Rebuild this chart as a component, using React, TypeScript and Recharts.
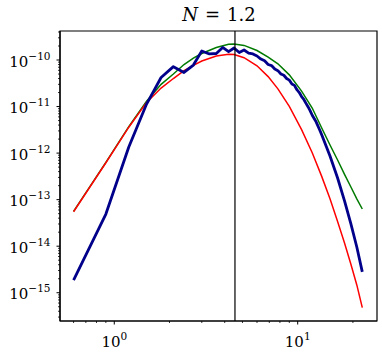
import React from 'react';
import { LineChart, Line, XAxis, YAxis, ReferenceLine, ReferenceArea } from 'recharts';

// ---- data ----
const curveX = [0.6, 0.9, 1.2, 1.5, 1.8, 2.1, 2.4, 2.7, 3.0, 3.6, 4.2, 4.5, 5.1, 6.0, 6.9, 7.8, 9.0, 10.5, 12, 13.5, 15, 16.5, 18, 19.5, 21, 22.5];
const greenY = [5.6e-14, 6.3e-13, 3.7e-12, 1.3e-11, 3.0e-11, 5.0e-11, 8.0e-11, 1.10e-10, 1.38e-10, 1.86e-10, 2.17e-10, 2.2e-10, 2.06e-10, 1.6e-10, 1.16e-10, 8.3e-11, 4.8e-11, 2.15e-11, 9.3e-12, 3.5e-12, 1.49e-12, 7.1e-13, 3.5e-13, 1.87e-13, 1.04e-13, 6.3e-14];
const redY = [5.5e-14, 6.2e-13, 3.6e-12, 1.23e-11, 2.5e-11, 4.0e-11, 5.9e-11, 7.7e-11, 9.5e-11, 1.22e-10, 1.33e-10, 1.31e-10, 1.12e-10, 7.5e-11, 4.4e-11, 2.4e-11, 1.01e-11, 3.2e-12, 1.02e-12, 3.2e-13, 1.04e-13, 3.4e-14, 1.17e-14, 4.1e-15, 1.47e-15, 4.8e-16];
const navyX = [0.6, 0.9, 1.2, 1.5, 1.8, 2.1, 2.4, 2.7, 3.0, 3.3, 3.6, 3.9, 4.2, 4.5, 4.8, 5.1, 5.4, 5.7, 6.0, 6.3, 6.6, 6.9, 7.2, 7.5, 7.8, 8.1, 8.4, 8.7, 9.0, 9.3, 9.6, 9.9, 10.2, 10.5, 10.8, 11.1, 11.4, 11.7, 12.0, 12.6, 13.2, 13.5, 15, 16.5, 18, 19.5, 21, 22.5];
const navyY = [1.87e-15, 4.9e-14, 1.35e-12, 1.13e-11, 4.2e-11, 7.2e-11, 5.4e-11, 7.8e-11, 1.56e-10, 1.35e-10, 1.38e-10, 1.86e-10, 1.51e-10, 1.81e-10, 1.45e-10, 1.64e-10, 1.41e-10, 1.35e-10, 1.22e-10, 1.05e-10, 9.6e-11, 8.0e-11, 7.6e-11, 6.4e-11, 5.9e-11, 5.0e-11, 4.7e-11, 4.0e-11, 3.7e-11, 3.05e-11, 2.85e-11, 2.3e-11, 2.0e-11, 1.64e-11, 1.42e-11, 1.17e-11, 9.8e-12, 8.1e-12, 6.5e-12, 4.7e-12, 3.1e-12, 2.5e-12, 8.65e-13, 2.92e-13, 9.4e-14, 3.0e-14, 9.6e-15, 2.8e-15];
const markerX = 4.55;
const titleLabel = 'N';
const titleValue = '1.2';

// ---- axes ----
const xDomain: [number, number] = [0.506, 27.06];
const yDomain: [number, number] = [2.47e-16, 4.2e-10];
const minorMultipliers = [2, 3, 4, 5, 6, 7, 8, 9];
const xDecades = [-1, 0, 1];
const yDecades = [-16, -15, -14, -13, -12, -11, -10];

const FONT = "DejaVu Serif";
const textStyle: React.CSSProperties = { fontFamily: FONT };

const buildTicks = (decades: number[], domain: [number, number]) => {
  const out: number[] = [];
  decades.forEach((e) => {
    out.push(Number(`1e${e}`));
    minorMultipliers.forEach((k) => out.push(Number(`${k}e${e}`)));
  });
  return out.filter((v) => v >= domain[0] && v <= domain[1]);
};
const xTicks = buildTicks(xDecades, xDomain);
const yTicks = buildTicks(yDecades, yDomain);

const toRows = (xs: number[], ys: number[]) => xs.map((x, i) => ({ x, y: ys[i] }));
const greenData = toRows(curveX, greenY);
const redData = toRows(curveX, redY);
const navyData = toRows(navyX, navyY);

const expOf = (v: number) => {
  const l = Math.log10(v);
  const e = Math.round(l);
  return { e, major: Math.abs(l - e) < 1e-6 };
};
const expText = (e: number) => (e < 0 ? `\u2212${-e}` : `${e}`);

const XTick = (props: any) => {
  const { x, y, payload } = props;
  const { e, major } = expOf(payload.value);
  return (
    <g>
      <line x1={x} x2={x} y1={y} y2={y + (major ? 3.5 : 2)} stroke="#000" strokeWidth={major ? 1 : 0.8} />
      {major && (
        <text x={x} y={y + 25.5} textAnchor="middle" style={textStyle} fontSize={15} fill="#000">
          10<tspan dy={-7} fontSize={10.5}>{expText(e)}</tspan>
        </text>
      )}
    </g>
  );
};

const YTick = (props: any) => {
  const { x, y, payload } = props;
  const { e, major } = expOf(payload.value);
  return (
    <g>
      <line x1={x - (major ? 3.5 : 2)} x2={x} y1={y} y2={y} stroke="#000" strokeWidth={major ? 1 : 0.8} />
      {major && (
        <text x={x - 9.5} y={y + 6.5} textAnchor="end" style={textStyle} fontSize={15} fill="#000">
          10<tspan dy={-7} fontSize={10.5}>{expText(e)}</tspan>
        </text>
      )}
    </g>
  );
};

export default function App() {
  return (
    <div style={{ position: 'absolute', left: 0, top: 0, width: 382, height: 356, background: '#fff' }}>
      <LineChart width={382} height={356} margin={{ top: 31, right: 5, left: 0, bottom: 0 }}>
        <XAxis
          dataKey="x"
          type="number"
          scale="log"
          domain={xDomain}
          allowDataOverflow
          ticks={xTicks}
          interval={0}
          tick={<XTick />}
          tickLine={false}
          tickSize={0}
          tickMargin={0}
          height={35}
          axisLine={{ stroke: '#000', strokeWidth: 1.2 }}
        />
        <YAxis
          dataKey="y"
          type="number"
          scale="log"
          domain={yDomain}
          allowDataOverflow
          ticks={yTicks}
          interval={0}
          tick={<YTick />}
          tickLine={false}
          tickSize={0}
          tickMargin={0}
          width={60}
          axisLine={{ stroke: '#000', strokeWidth: 1.2 }}
        />
        <ReferenceArea x1={xDomain[0]} x2={xDomain[1]} y1={yDomain[0]} y2={yDomain[1]} fill="none" fillOpacity={0} stroke="#000" strokeWidth={1.2} ifOverflow="visible" />
        <Line data={greenData} dataKey="y" type="linear" stroke="#007a00" strokeWidth={1.5} dot={false} isAnimationActive={false} />
        <Line data={redData} dataKey="y" type="linear" stroke="#ff0000" strokeWidth={1.5} dot={false} isAnimationActive={false} />
        <Line data={navyData} dataKey="y" type="linear" stroke="#00008b" strokeWidth={2.8} dot={false} isAnimationActive={false} strokeLinejoin="round" />
        <ReferenceLine x={markerX} stroke="#000" strokeWidth={1.2} ifOverflow="visible" />
      </LineChart>
      <svg width={382} height={40} style={{ position: 'absolute', left: 0, top: 0, pointerEvents: 'none' }}>
        <text x={219} y={20.5} textAnchor="middle" style={textStyle} fontSize={18} fill="#000">
          <tspan fontStyle="italic">{titleLabel}</tspan>
          <tspan dx={7}>=</tspan>
          <tspan dx={7}>{titleValue}</tspan>
        </text>
      </svg>
    </div>
  );
}
